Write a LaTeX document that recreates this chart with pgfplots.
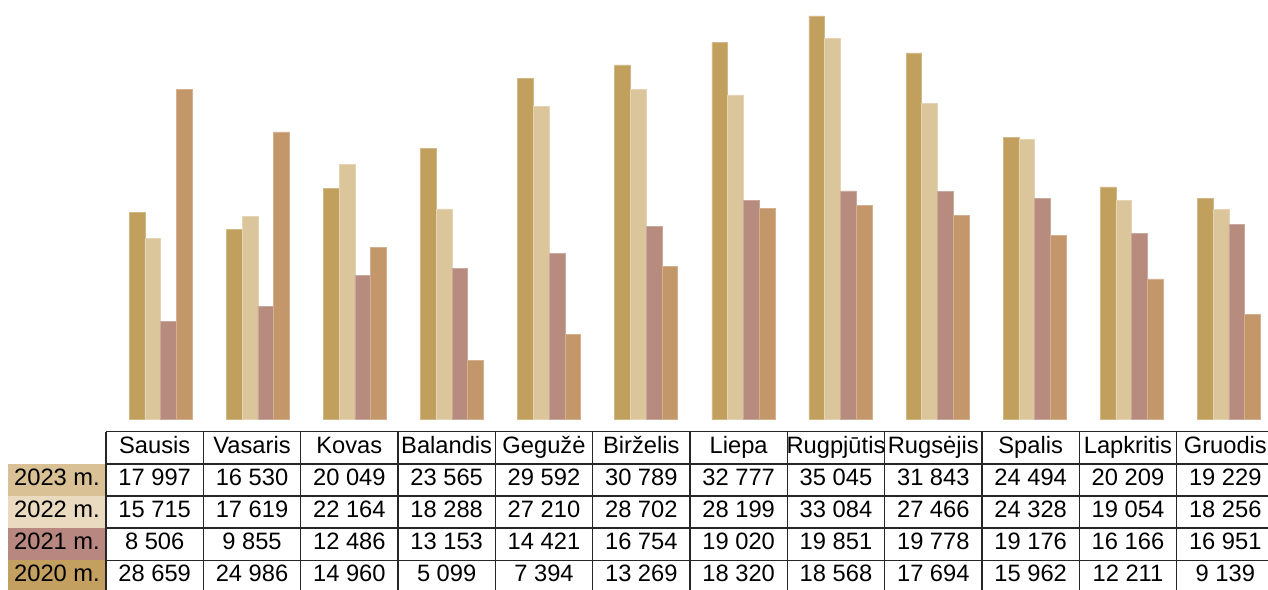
\documentclass[border=0pt]{standalone}
\usepackage{pgfplots}
\pgfplotsset{compat=1.18}
\usepackage{fontspec}
\setmainfont{Liberation Sans}
\definecolor{c23}{HTML}{C1A05E}
\definecolor{c22}{HTML}{DBC59B}
\definecolor{c21}{HTML}{B78B7E}
\definecolor{c20}{HTML}{C4976B}
\definecolor{s23}{HTML}{D9C195}
\definecolor{s22}{HTML}{EADBC0}
\definecolor{s21}{HTML}{B78780}
\definecolor{s20}{HTML}{C4A060}
\begin{document}
\begin{tikzpicture}
\begin{axis}[at={(56.075pt,84.75pt)}, anchor=south west, scale only axis,
  width=582.6pt, height=201.75pt, xmin=-0.5, xmax=11.5, ymin=0, ymax=35045,
  axis lines=none, ybar=0pt, bar width=7.875pt, clip=false]
\addplot[fill=c23, draw=c23!75!white, line width=0.3pt] coordinates {(0,17997) (1,16530) (2,20049) (3,23565) (4,29592) (5,30789) (6,32777) (7,35045) (8,31843) (9,24494) (10,20209) (11,19229)};
\addplot[fill=c22, draw=c22!75!white, line width=0.3pt] coordinates {(0,15715) (1,17619) (2,22164) (3,18288) (4,27210) (5,28702) (6,28199) (7,33084) (8,27466) (9,24328) (10,19054) (11,18256)};
\addplot[fill=c21, draw=c21!75!white, line width=0.3pt] coordinates {(0,8506) (1,9855) (2,12486) (3,13153) (4,14421) (5,16754) (6,19020) (7,19851) (8,19778) (9,19176) (10,16166) (11,16951)};
\addplot[fill=c20, draw=c20!75!white, line width=0.3pt] coordinates {(0,28659) (1,24986) (2,14960) (3,5099) (4,7394) (5,13269) (6,18320) (7,18568) (8,17694) (9,15962) (10,12211) (11,9139)};
\end{axis}
% data table
\fill[s23] (4pt,46.5pt) rectangle (53pt,62.575pt);
\fill[s22] (4pt,30.425pt) rectangle (53pt,46.5pt);
\fill[s21] (4pt,14.35pt) rectangle (53pt,30.425pt);
\fill[s20] (4pt,-2pt) rectangle (53pt,14.35pt);
\begin{scope}[line width=0.8pt, draw=black!85]
\foreach \yy in {78.65,62.575,46.5,30.425,14.35}
  \draw (53pt,\yy pt) -- (640pt,\yy pt);
\foreach \i in {0,...,12}
  \draw ({(53+\i*48.665)*1pt},78.65pt) -- ({(53+\i*48.665)*1pt},-2pt);
\end{scope}
\begin{scope}[every node/.style={font=\fontsize{11.85}{14}\selectfont, inner sep=0pt, anchor=center}]
\foreach \m [count=\i from 0] in {Sausis,Vasaris,Kovas,Balandis,Gegužė,Birželis,Liepa,Rugpjūtis,Rugsėjis,Spalis,Lapkritis,Gruodis}
  \node at ({(53+(\i+0.5)*48.665)*1pt},70.61pt) {\strut\m};
\foreach \m [count=\i from 0] in {17 997,16 530,20 049,23 565,29 592,30 789,32 777,35 045,31 843,24 494,20 209,19 229}
  \node at ({(53+(\i+0.5)*48.665)*1pt},54.54pt) {\strut\m};
\foreach \m [count=\i from 0] in {15 715,17 619,22 164,18 288,27 210,28 702,28 199,33 084,27 466,24 328,19 054,18 256}
  \node at ({(53+(\i+0.5)*48.665)*1pt},38.46pt) {\strut\m};
\foreach \m [count=\i from 0] in {8 506,9 855,12 486,13 153,14 421,16 754,19 020,19 851,19 778,19 176,16 166,16 951}
  \node at ({(53+(\i+0.5)*48.665)*1pt},22.39pt) {\strut\m};
\foreach \m [count=\i from 0] in {28 659,24 986,14 960,5 099,7 394,13 269,18 320,18 568,17 694,15 962,12 211,9 139}
  \node at ({(53+(\i+0.5)*48.665)*1pt},6.31pt) {\strut\m};
\node at (28.5pt,54.54pt) {\strut 2023 m.};
\node at (28.5pt,38.46pt) {\strut 2022 m.};
\node at (28.5pt,22.39pt) {\strut 2021 m.};
\node at (28.5pt,6.31pt) {\strut 2020 m.};
\end{scope}
\pgfresetboundingbox
\path (0,0) rectangle (634pt,294.5pt);
\end{tikzpicture}
\end{document}
